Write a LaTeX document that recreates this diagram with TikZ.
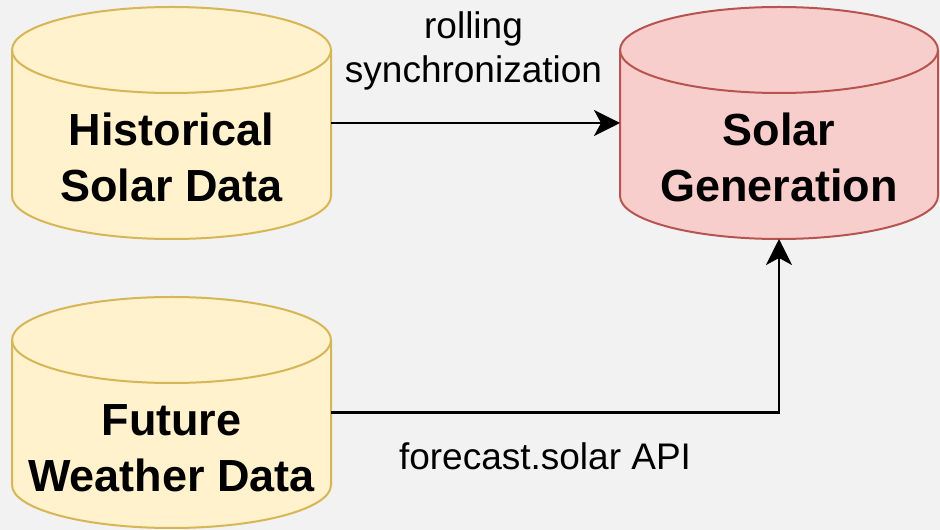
\documentclass[tikz,border=0pt]{standalone}
\usepackage{fontspec}
\setmainfont{Liberation Sans}
\usetikzlibrary{arrows.meta}
\definecolor{bgc}{HTML}{F2F2F2}
\definecolor{yfill}{HTML}{FFF2CC}
\definecolor{ydraw}{HTML}{D6B656}
\definecolor{rfill}{HTML}{F8CECC}
\definecolor{rdraw}{HTML}{B85450}
\newcommand\dbshape[3]{%
  \draw[#3] ([yshift=-43pt]#1.north west) -- ([yshift=43pt]#1.south west)
    arc[start angle=180,end angle=360,x radius=#2,y radius=43pt]
    -- ([yshift=-43pt]#1.north east)
    arc[start angle=0,end angle=180,x radius=#2,y radius=43pt] -- cycle;
  \draw[#3,fill=none] ([yshift=-43pt]#1.north west)
    arc[start angle=180,end angle=360,x radius=#2,y radius=43pt];}
\tikzset{
  dbbox/.style={inner sep=0pt, outer sep=0pt, draw=none},
  ydb/.style={fill=yfill, draw=ydraw, line width=2pt},
  rdb/.style={fill=rfill, draw=rdraw, line width=2pt},
  dbtext/.style={font=\bfseries\fontsize{45}{56}\selectfont, align=center, anchor=base, inner sep=0pt},
  lbl/.style={font=\fontsize{37}{44}\selectfont, align=center, anchor=base, inner sep=0pt},
  arr/.style={line width=2.5pt, -{Stealth[length=26pt, width=26pt, inset=7pt]}}
}
\begin{document}
\begin{tikzpicture}[x=1pt,y=1pt]
\useasboundingbox (0,0) rectangle (940,530);
\fill[bgc] (0,0) rectangle (940,530);
\node[dbbox, minimum width=319pt, minimum height=232pt] (hist) at (171.5,407) {};
\node[dbbox, minimum width=318pt, minimum height=232pt] (solar) at (779,407) {};
\node[dbbox, minimum width=319pt, minimum height=231pt] (future) at (171.5,117.5) {};
\dbshape{hist}{159.5pt}{ydb}
\dbshape{solar}{159pt}{rdb}
\dbshape{future}{159.5pt}{ydb}
\node[dbtext] (histtext) at (171.5,328) {Historical\\Solar Data};
\node[dbtext] (solartext) at (779,328) {Solar\\Generation};
\node[dbtext] (futuretext) at (171.5,38) {Future\\Weather Data};
\draw[arr] (hist.east) -- (solar.west);
\draw[arr] (future.east) -| (solar.south);
\node[lbl] (synclbl) at (473.5,447) {rolling\\synchronization};
\node[lbl] (apilbl) at (545,60) {forecast.solar API};
\end{tikzpicture}
\end{document}
